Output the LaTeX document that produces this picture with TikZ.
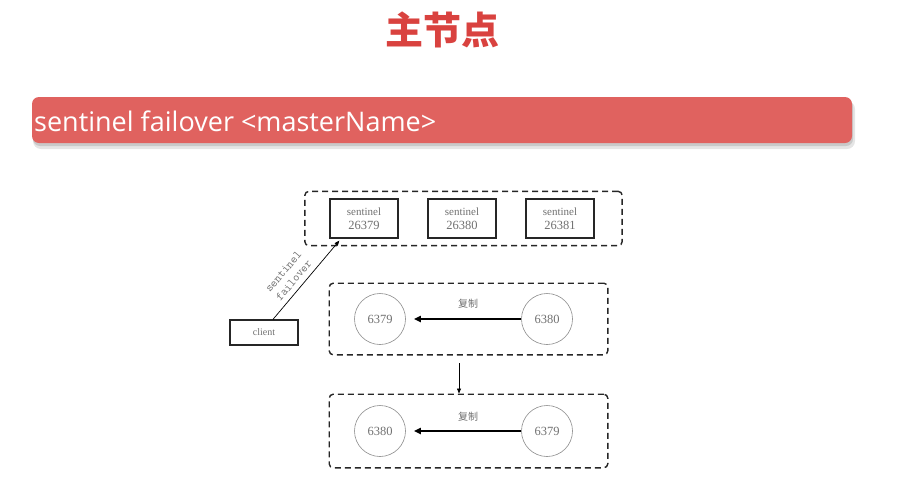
\documentclass[tikz,border=0pt]{standalone}
\usepackage{fontspec}
\setmainfont{Liberation Serif}
\newfontfamily\cjk{Noto Sans CJK SC}
\newfontfamily\barfont{Open Sans}
\usetikzlibrary{arrows.meta,fit,calc}
\definecolor{titlered}{HTML}{D9423F}
\definecolor{barred}{HTML}{E0625F}
\definecolor{inkgray}{HTML}{707070}
\begin{document}
\begin{tikzpicture}[x=1pt,y=-1pt,
  sbox/.style={draw=black!85,line width=1.3pt,minimum width=68pt,minimum height=39pt,inner sep=0pt,align=center,text=inkgray,font=\fontsize{11}{14}\selectfont},
  group/.style={draw=black!85,line width=1.4pt,dash pattern=on 6pt off 4pt,rounded corners=4pt,inner sep=0pt},
  server/.style={circle,draw=black!45,line width=0.6pt,minimum size=51pt,inner sep=0pt,text=inkgray,font=\fontsize{12.5}{14}\selectfont},
  copy/.style={-{Triangle[length=7pt,width=6pt]},line width=1.7pt,shorten >=8pt},
  flow/.style={-{Triangle[length=5pt,width=4pt]},line width=0.7pt},
  copylabel/.style={text=inkgray,font=\cjk\fontsize{10}{12}\selectfont}]
\useasboundingbox (0,0) rectangle (912,482);
% title
\node[text=titlered,font=\cjk\bfseries\fontsize{38}{42}\selectfont] (title) at (442,30) {主节点};
% command bar with its shadow
\fill[black,opacity=.10,rounded corners=8pt] (33,101) rectangle (855,149);
\fill[black,opacity=.12,rounded corners=7pt] (33,100) rectangle (853,146);
\fill[barred,rounded corners=7pt] (32,97) rectangle (852,143);
\node[anchor=west,text=white,font=\barfont\fontsize{27}{30}\selectfont,inner sep=0pt] (cmd) at (34,121) {sentinel failover <masterName>};
% sentinels
\node[sbox] (s1) at (364,218.5) {sentinel\\{\fontsize{12.5}{14}\selectfont 26379}};
\node[sbox] (s2) at (462,218.5) {sentinel\\{\fontsize{12.5}{14}\selectfont 26380}};
\node[sbox] (s3) at (560,218.5) {sentinel\\{\fontsize{12.5}{14}\selectfont 26381}};
\node[group,fit=(s1)(s3),inner xsep=26pt,inner ysep=7pt,xshift=1.5pt] (sentinels) {};
% client
\node[sbox,minimum height=25pt,font=\fontsize{10}{12}\selectfont] (client) at (264,332.5) {client};
\draw[flow] ($(client.north)+(9,0)$) -- node[pos=.42,sloped,above=2pt,align=center,text=inkgray,font=\ttfamily\addfontfeatures{LetterSpace=12}\fontsize{12}{13.5}\selectfont] (cmdlabel) {sentinel\\failover} ($(s1.south west)+(10,2)$);
% before failover
\node[server] (m1) at (380,319) {6379};
\node[server] (r1) at (547,319) {6380};
\draw[copy] (r1) -- (m1);
\node[copylabel] (c1) at (468,304) {复制};
\node[group,fit=(m1)(r1),inner xsep=30pt,inner ysep=10pt,xshift=5pt] (before) {};
% after failover
\node[server] (m2) at (380,431) {6380};
\node[server] (r2) at (547,431) {6379};
\draw[copy] (r2) -- (m2);
\node[copylabel] (c2) at (468,417) {复制};
\node[group,fit=(m2)(r2),inner xsep=30pt,inner ysep=11pt,xshift=5pt] (after) {};
% switch over
\coordinate (drop) at (459,363);
\draw[flow] (drop) -- (drop |- after.north);
\end{tikzpicture}
\end{document}
